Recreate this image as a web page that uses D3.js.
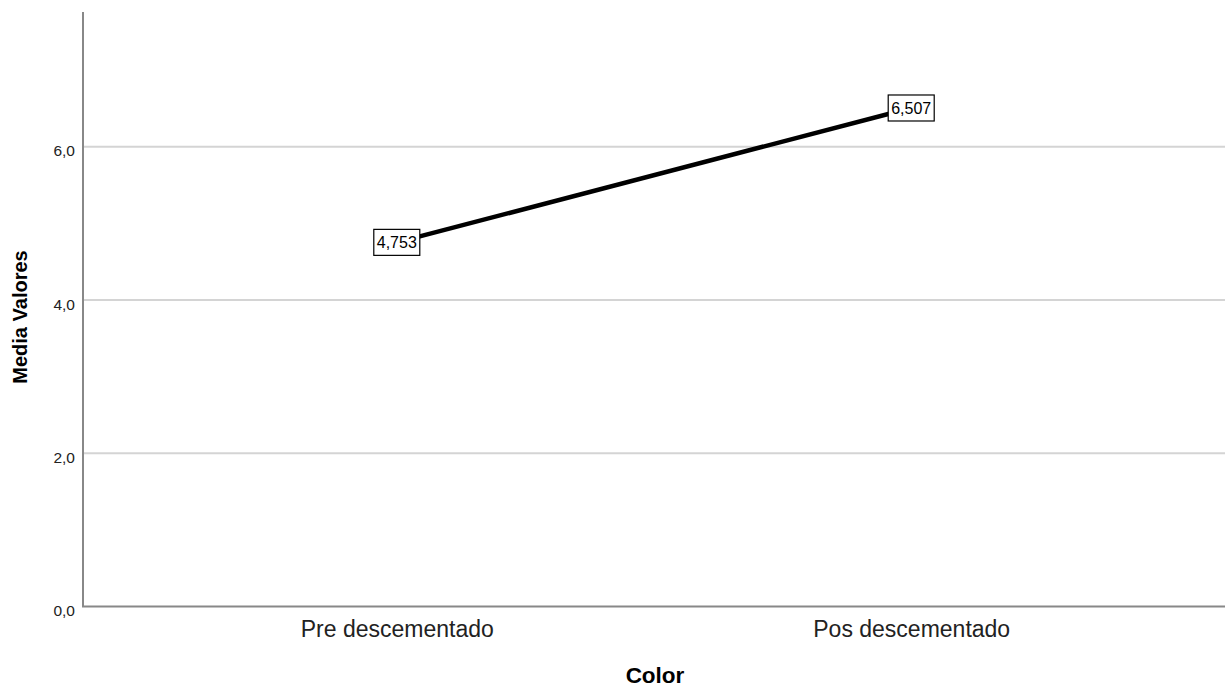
<!DOCTYPE html>
<html>
<head>
<meta charset="utf-8">
<script src="https://cdn.jsdelivr.net/npm/d3@7"></script>
<style>
  html, body { margin: 0; padding: 0; background: #fff; }
  svg { display: block; font-family: "Liberation Sans", Arial, sans-serif; }
</style>
</head>
<body>
<svg id="chart" width="1225" height="687"></svg>
<script>
const categories = ["Pre descementado", "Pos descementado"];
const meanValues = [4.753, 6.507];
const valueLabels = ["4,753", "6,507"];
const yTicks = [0, 2, 4, 6];
const yTickLabels = ["0,0", "2,0", "4,0", "6,0"];
const xTitle = "Color";
const yTitle = "Media Valores";

(function () {
const svg = d3.select("#chart");
const mLeft = 83, mRight = 1225, mTop = 12, mBottom = 606.5;

const x = d3.scalePoint().domain(categories).range([mLeft, mRight]).padding(0.61);
const y = d3.scaleLinear().domain([0, 7.76]).range([mBottom, mTop]);

// gridlines
svg.append("g").selectAll("line")
  .data(yTicks.filter(d => d > 0))
  .join("line")
  .attr("x1", mLeft).attr("x2", mRight)
  .attr("y1", d => y(d)).attr("y2", d => y(d))
  .attr("stroke", "#d4d4d4").attr("stroke-width", 2);

// y axis
const yAxis = d3.axisLeft(y).tickValues(yTicks).tickSize(0).tickPadding(8)
  .tickFormat((d, i) => yTickLabels[i]);
const gy = svg.append("g").attr("transform", `translate(${mLeft},0)`).call(yAxis);
gy.select(".domain").remove();
gy.selectAll("text").attr("font-size", "15.5px").attr("fill", "#222")
  .attr("font-family", "Liberation Sans, Arial, sans-serif").attr("dy", "0.58em");

// x axis
const xAxis = d3.axisBottom(x).tickSize(0).tickPadding(14);
const gx = svg.append("g").attr("transform", `translate(0,${mBottom})`).call(xAxis);
gx.select(".domain").remove();
gx.selectAll("text").attr("font-size", "23px").attr("fill", "#222")
  .attr("font-family", "Liberation Sans, Arial, sans-serif");

// axis lines
svg.append("line").attr("x1", mLeft).attr("x2", mLeft).attr("y1", mTop).attr("y2", mBottom)
  .attr("stroke", "#888").attr("stroke-width", 2);
svg.append("line").attr("x1", mLeft - 1).attr("x2", mRight).attr("y1", mBottom).attr("y2", mBottom)
  .attr("stroke", "#888").attr("stroke-width", 2);

// line
const pts = categories.map((c, i) => ({c, v: meanValues[i], lab: valueLabels[i]}));
svg.append("path").datum(pts)
  .attr("fill", "none").attr("stroke", "#000").attr("stroke-width", 4.5)
  .attr("d", d3.line().x(d => x(d.c)).y(d => y(d.v)));

// value labels
const lg = svg.append("g").selectAll("g").data(pts).join("g")
  .attr("transform", d => `translate(${x(d.c)},${y(d.v)})`);
lg.append("rect").attr("x", -23).attr("y", -13).attr("width", 46).attr("height", 26)
  .attr("fill", "#fff").attr("stroke", "#000").attr("stroke-width", 1.2);
lg.append("text").attr("text-anchor", "middle").attr("dy", "0.36em")
  .attr("font-size", "16px").attr("fill", "#000").text(d => d.lab);

// titles
svg.append("text").attr("x", (mLeft + mRight) / 2 + 1).attr("y", 683)
  .attr("text-anchor", "middle").attr("font-size", "22.5px").attr("font-weight", "bold")
  .attr("fill", "#000").text(xTitle);
svg.append("text").attr("transform", `translate(27,317) rotate(-90)`)
  .attr("text-anchor", "middle").attr("font-size", "20px").attr("font-weight", "bold")
  .attr("fill", "#000").text(yTitle);
})();
</script>
</body>
</html>
